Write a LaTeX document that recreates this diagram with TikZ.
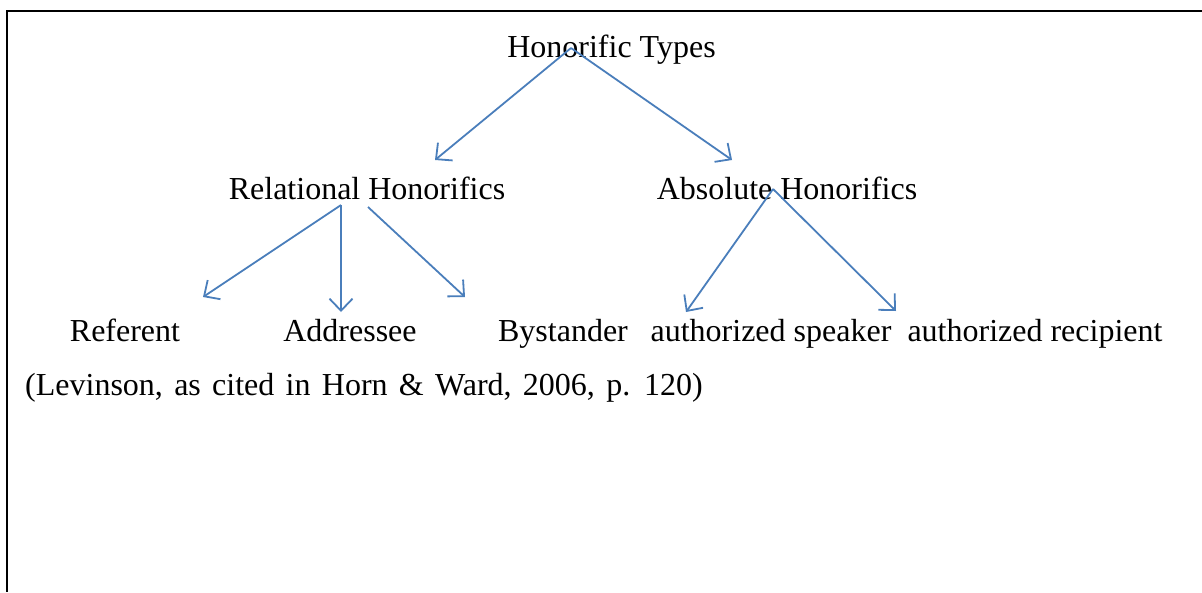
\documentclass[tikz,border=0pt]{standalone}
\usepackage{fontspec}
\setmainfont{Liberation Serif}
\usetikzlibrary{arrows.meta}
\definecolor{arrowblue}{RGB}{74,126,187}
\tikzset{
  lbl/.style={anchor=base, inner sep=0pt, font=\fontsize{32}{36}\selectfont, text=black},
  conn/.style={draw=arrowblue, line width=1.8pt, -{Straight Barb[length=12pt,width=23pt,line width=1.8pt]}},
  frame/.style={draw=black}
}
\begin{document}
\begin{tikzpicture}[x=1pt,y=-1pt]
\useasboundingbox (0,0) rectangle (1202,592);
% frame
\draw[frame, line width=2.2pt] (6,11) -- (1202,11);
\draw[frame, line width=1.6pt] (7,10) -- (7,592);
% labels
\node[lbl] (types) at (611.5,57) {Honorific Types};
\node[lbl] (rel) at (367,199) {Relational Honorifics};
\node[lbl] (abs) at (787,199) {Absolute Honorifics};
\node[lbl] (ref) at (125,341) {Referent};
\node[lbl] (addr) at (350,341) {Addressee};
\node[lbl] (bys) at (563,341) {Bystander};
\node[lbl] (spk) at (771,341) {authorized speaker};
\node[lbl] (rcp) at (1035,341) {authorized recipient};
\node[lbl, anchor=base west] (cite) at (25,395) {\spaceskip=11.3pt plus 0pt minus 0pt (Levinson, as cited in Horn \& Ward, 2006, p. 120)};
% connector end points
\coordinate (t0) at (571,48);
\coordinate (t1) at (435,160);
\coordinate (t2) at (732,160);
\coordinate (r0) at (341,205);
\coordinate (r1) at (203,297);
\coordinate (r2) at (341,312);
\coordinate (r3a) at (368,207);
\coordinate (r3) at (465,297);
\coordinate (a0) at (773,189);
\coordinate (a1) at (686,312);
\coordinate (a2) at (896,311);
% connectors
\draw[conn] (t0) -- (t1);
\draw[conn] (t0) -- (t2);
\draw[conn] (r0) -- (r1);
\draw[conn] (r0) -- (r2);
\draw[conn] (r3a) -- (r3);
\draw[conn] (a0) -- (a1);
\draw[conn] (a0) -- (a2);
\end{tikzpicture}
\end{document}
